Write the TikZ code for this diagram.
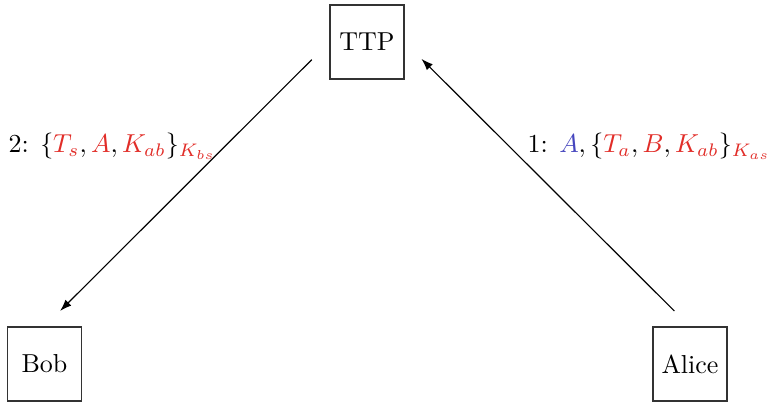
\documentclass[tikz,border=0pt]{standalone}
\usetikzlibrary{arrows.meta}
\definecolor{msgred}{RGB}{225,45,40}
\definecolor{msgblue}{RGB}{70,70,190}
\begin{document}
\begin{tikzpicture}[x=0.385pt,y=-0.385pt,
  party/.style={draw=black!80, minimum size=28.4pt, inner sep=0pt, line width=0.5pt},
  msg/.style={-{Latex[length=4.5pt,width=3.2pt]}, line width=0.45pt},
  lbl/.style={anchor=base west, inner sep=0pt}]
\useasboundingbox (0,0) rectangle (768,403);
\node[party] (ttp) at (367,42) {TTP};
\node[party] (bob) at (44.5,364) {Bob};
\node[party] (alice) at (690,364) {Alice};
\draw[msg, shorten <=9.6pt, shorten >=28.9pt] (ttp.west) -- (bob.west);
\draw[msg, shorten <=28.9pt, shorten >=9.2pt] (alice.east) -- (ttp.east);
\node[lbl] (m2) at (8,153) {2: $\{\textcolor{msgred}{T_s}, \textcolor{msgred}{A}, \textcolor{msgred}{K_{ab}}\}_{\textcolor{msgred}{K_{bs}}}$};
\node[lbl] (m1) at (527,153) {1: $\textcolor{msgblue}{A}, \{\textcolor{msgred}{T_a}, \textcolor{msgred}{B}, \textcolor{msgred}{K_{ab}}\}_{\textcolor{msgred}{K_{as}}}$};
\end{tikzpicture}
\end{document}
